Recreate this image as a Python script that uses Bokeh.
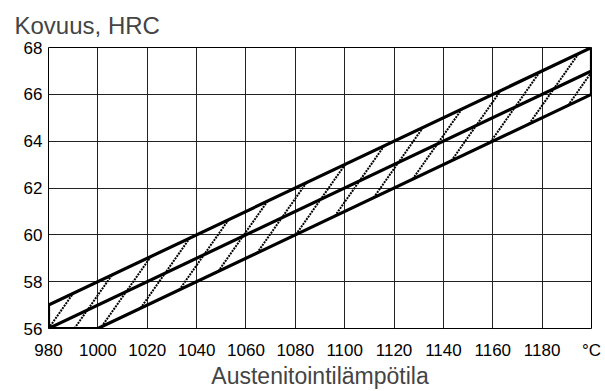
from bokeh.plotting import figure
from bokeh.models import FixedTicker
from bokeh.embed import file_html
from bokeh.resources import INLINE

# ---- data ----
x_ticks = [980, 1000, 1020, 1040, 1060, 1080, 1100, 1120, 1140, 1160, 1180, 1200]
x_tick_labels = {1200: "°C"}
y_ticks = [56, 58, 60, 62, 64, 66, 68]
upper_x = [980, 1200]
upper_y = [57, 68]
middle_x = [980, 1200]
middle_y = [56, 67]
lower_x = [1000, 1200]
lower_y = [56, 66]
hatch_slope = 0.15      # HRC per degree
hatch_step = 10.5       # degrees between hatch lines
hatch_count = 15

FONT = "Liberation Sans"

p = figure(width=605, height=391, x_range=(980, 1200), y_range=(56, 68),
           output_backend="svg", toolbar_location=None,
           min_border_left=48, min_border_right=14, min_border_top=47, min_border_bottom=60)

p.title.text = "Kovuus, HRC"
p.title.text_font = FONT
p.title.text_font_size = "24px"
p.title.text_font_style = "normal"
p.title.align = "left"
p.title.offset = -34
p.title.standoff = 18

p.outline_line_color = "black"
p.outline_line_width = 1

p.xaxis.ticker = FixedTicker(ticks=x_ticks)
p.yaxis.ticker = FixedTicker(ticks=y_ticks)
p.xaxis.major_label_overrides = x_tick_labels
for ax in (p.xaxis, p.yaxis):
    ax.major_tick_out = 0
    ax.major_tick_in = 0
    ax.minor_tick_out = 0
    ax.minor_tick_in = 0
    ax.axis_line_color = None
    ax.major_label_text_font = FONT
    ax.major_label_text_font_size = "17px"
    ax.major_label_text_color = "black"
p.xaxis.major_label_standoff = 12
p.yaxis.major_label_standoff = 6
p.xaxis.axis_label = "Austenitointilämpötila"
p.xaxis.axis_label_text_font = FONT
p.xaxis.axis_label_text_font_size = "23px"
p.xaxis.axis_label_text_font_style = "normal"
p.xaxis.axis_label_standoff = 0

p.xgrid.ticker = FixedTicker(ticks=x_ticks)
p.ygrid.ticker = FixedTicker(ticks=y_ticks)
for g in (p.xgrid, p.ygrid):
    g.grid_line_color = "#222222"
    g.grid_line_width = 1

# band outline polygon from upper and lower boundaries
band_x = [upper_x[0], lower_x[0], lower_x[1], upper_x[1], upper_x[0], upper_x[0]]
band_y = [y_ticks[0], lower_y[0], lower_y[1], upper_y[1], upper_y[0], y_ticks[0]]

# hatch lines: parallel lines clipped to the band
su = (upper_y[1] - upper_y[0]) / (upper_x[1] - upper_x[0])
sl = (lower_y[1] - lower_y[0]) / (lower_x[1] - lower_x[0])
hx, hy = [], []
for k in range(hatch_count):
    c = upper_x[0] + k * hatch_step
    base = y_ticks[0]
    r2 = (hatch_slope * c - sl * lower_x[0] + lower_y[0] - base) / (hatch_slope - sl)
    xs = max(upper_x[0], c, r2)
    ru = (upper_y[0] - base + hatch_slope * c - su * upper_x[0]) / (hatch_slope - su)
    xe = min(upper_x[1], ru)
    if xe > xs:
        hx.append([xs, xe])
        hy.append([base + hatch_slope * (xs - c), base + hatch_slope * (xe - c)])

p.multi_line(hx, hy, line_color="black", line_width=2, line_dash="2 1")
p.line(band_x, band_y, line_color="black", line_width=3.2)
p.line(middle_x, middle_y, line_color="black", line_width=3.2)

open("out.html", "w").write(file_html(p, INLINE))
